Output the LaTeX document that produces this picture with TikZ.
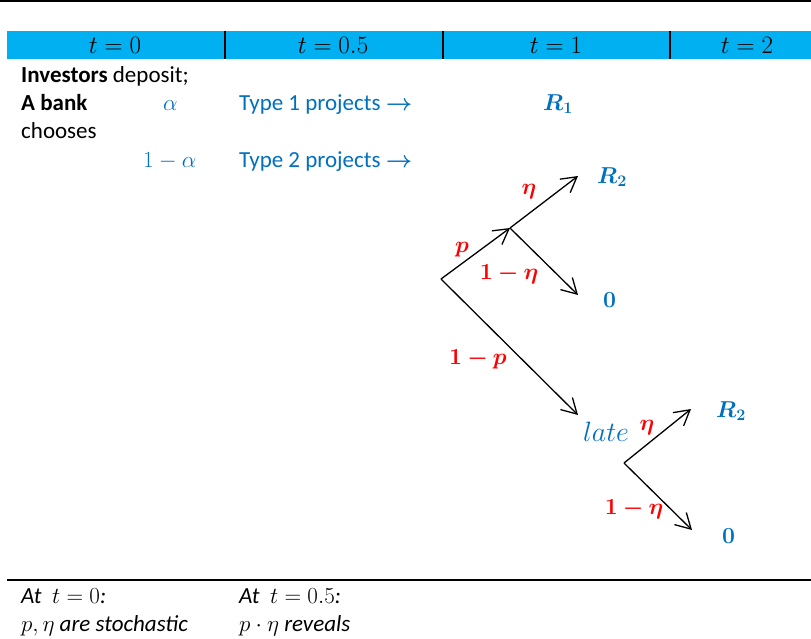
\RequirePackage{fix-cm}
\documentclass[tikz,border=0pt]{standalone}
\usepackage{amsmath,bm}
\usepackage{fontspec}
\setmainfont{Carlito}
\usetikzlibrary{arrows.meta}
\definecolor{hdrcyan}{HTML}{00B0F0}
\definecolor{txtblue}{HTML}{0070C0}
\definecolor{probred}{HTML}{FF0000}

\begin{document}
\begin{tikzpicture}[x=1pt,y=-1pt,
every node/.style={font=\fontsize{23}{28}\selectfont,inner sep=0pt},
hdr/.style={anchor=base,font=\fontsize{25}{30}\selectfont},
txt/.style={anchor=base west},
bluetxt/.style={anchor=base west,text=txtblue},
outc/.style={anchor=base west,text=txtblue},
prob/.style={anchor=base,text=probred},
branch/.style={line width=1.3pt,-{Straight Barb[length=15pt,width=17pt,line width=1.3pt]}}
]
\useasboundingbox (0,0) rectangle (811,638);
% header
\draw[line width=2pt] (0,1) -- (811,1);
\fill[hdrcyan] (7,31) rectangle (811,59);
\foreach \x in {225,443,670} \draw[line width=1.5pt] (\x,31) -- (\x,59);
\node[hdr] (h0) at (115,53) {$t=0$};
\node[hdr] (h1) at (333,53) {$t=0.5$};
\node[hdr] (h2) at (556,53) {$t=1$};
\node[hdr] (h3) at (747,53) {$t=2$};
% t = 0 column
\node[txt] (inv) at (21,82) {\textbf{Investors} deposit;};
\node[txt] (bank) at (21,110) {\textbf{A bank}};
\node[txt] (choose) at (21,138) {chooses};
\node[bluetxt] (alpha) at (163,110) {$\alpha$};
\node[bluetxt] (oneminus) at (143,167) {$1-\alpha$};
\node[bluetxt] (type1) at (239,110) {Type 1 projects $\boldsymbol{\rightarrow}$};
\node[bluetxt] (type2) at (239,167) {Type 2 projects $\boldsymbol{\rightarrow}$};
\node[outc] (r1) at (543,110) {$\bm{R_1}$};
% tree
\coordinate (root) at (441,279);
\coordinate (mid) at (510,228);
\coordinate (up) at (578,176);
\coordinate (down) at (578,295);
\coordinate (lateend) at (578,415);
\coordinate (root2) at (624,463);
\coordinate (up2) at (691,409);
\coordinate (down2) at (692,530);
\draw[branch] (root) -- (mid);
\draw[branch] (mid) -- (up);
\draw[branch] (mid) -- (down);
\draw[branch] (root) -- (lateend);
\draw[branch] (root2) -- (up2);
\draw[branch] (root2) -- (down2);
\node[prob] (pp) at (462,252) {$\bm{p}$};
\node[prob] (eta) at (529,194) {$\bm{\eta}$};
\node[prob] (oneeta) at (509,279) {$\bm{1-\eta}$};
\node[prob] (onep) at (478,364) {$\bm{1-p}$};
\node[outc] (r2) at (597,183) {$\bm{R_2}$};
\node[outc] (zero) at (603,307) {$\bm{0}$};
\node[outc,font=\fontsize{28}{32}\selectfont] (late) at (583,441) {$late$};
\node[prob] (eta2) at (647,430) {$\bm{\eta}$};
\node[outc] (r2b) at (716,417) {$\bm{R_2}$};
\node[prob] (oneeta2) at (634,514) {$\bm{1-\eta}$};
\node[outc] (zero2) at (722,543) {$\bm{0}$};
% footer
\draw[line width=1.5pt] (7,580) -- (811,580);
\node[txt] (at0) at (21,603) {\textit{At} ~$t=0$\textit{:}};
\node[txt] (stoch) at (21,631) {$p,\eta$ \textit{are stochastic}};
\node[txt] (at5) at (239,603) {\textit{At} ~$t=0.5$\textit{:}};
\node[txt] (reveal) at (239,631) {$p\cdot\eta$ \textit{reveals}};
\end{tikzpicture}
\end{document}
